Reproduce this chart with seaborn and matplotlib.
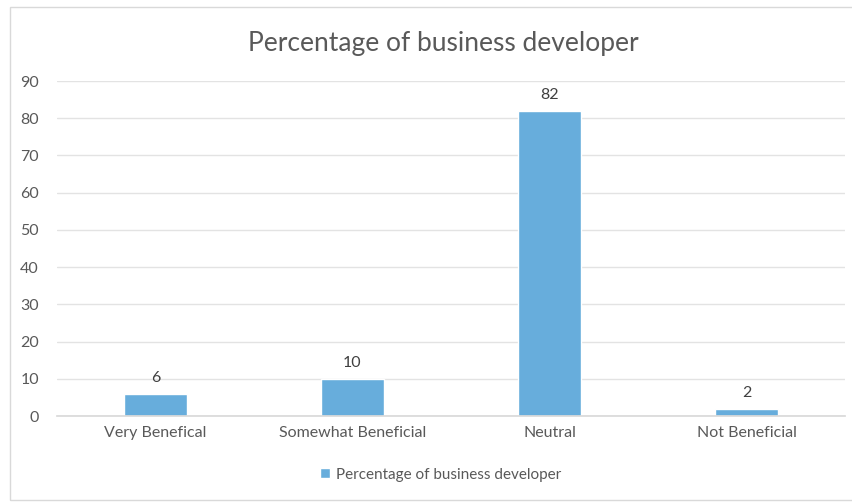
import matplotlib
matplotlib.use("Agg")
import matplotlib.pyplot as plt
import seaborn as sns
import pandas as pd
from matplotlib.patches import Rectangle

categories = ["Very Benefical", "Somewhat Beneficial", "Neutral", "Not Beneficial"]
values = [6, 10, 82, 2]
series_name = "Percentage of business developer"
title = "Percentage of business developer"

sns.set_theme(style="white")
plt.rcParams['font.family'] = ['Lato', 'DejaVu Sans']

df = pd.DataFrame({"category": categories, "value": values})

fig = plt.figure(figsize=(8.53, 5.03), dpi=100)
fig.patch.set_facecolor("white")
fig.patches.append(Rectangle((10/853, 3/503), 850/853, 493/503, transform=fig.transFigure,
                             fill=False, edgecolor="#d9d9d9", linewidth=1))
ax = fig.add_axes([57/853, (503-416)/503, 788/853, (416-81)/503])
bar_color = "#67ADDC"
sns.barplot(data=df, x="category", y="value", color=bar_color, width=0.315, ax=ax,
            saturation=1, label=series_name)
ax.set_ylim(0, 90)
ax.set_xlim(-0.5, 3.5)
ax.set_yticks(range(0, 91, 10))
ax.yaxis.grid(True, color="#e3e3e3", linewidth=1)
ax.set_axisbelow(True)
for s in ["top", "right", "left"]:
    ax.spines[s].set_visible(False)
ax.spines["bottom"].set_color("#d9d9d9")
ax.set_xlabel("")
ax.set_ylabel("")
ax.tick_params(axis="both", length=0, colors="#595959", labelsize=11.5)
ax.tick_params(axis="y", pad=13)
ax.tick_params(axis="x", pad=7)
for c in ax.containers:
    ax.bar_label(c, labels=[str(v) for v in values], padding=6, color="#404040", fontsize=11.5)
fig.text(443/853, 1 - 44/503, title, ha="center", va="center", fontsize=19, color="#595959")
leg = ax.legend(loc="center", bbox_to_anchor=(0.487, -0.175), frameon=False, fontsize=11,
                handlelength=0.6, handleheight=0.6, handletextpad=0.4)
for t in leg.get_texts():
    t.set_color("#595959")
fig.savefig("out.png", dpi=100, facecolor="white")
